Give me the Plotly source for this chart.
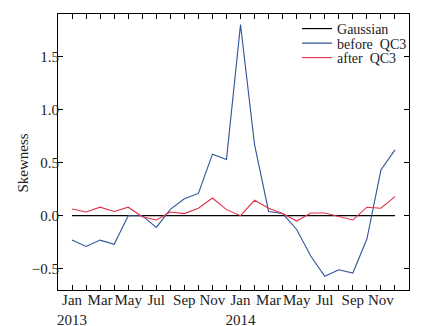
import plotly.graph_objects as go

months = ["Jan", "Feb", "Mar", "Apr", "May", "Jun", "Jul", "Aug", "Sep", "Oct", "Nov", "Dec"] * 2
years = [2013] * 12 + [2014] * 12
month_idx = list(range(24))

gaussian = [0.0] * 24
before_qc3 = [-0.23, -0.29, -0.23, -0.27, 0.00, 0.00, -0.11, 0.06, 0.16, 0.21, 0.58, 0.53,
              1.80, 0.67, 0.04, 0.02, -0.13, -0.38, -0.57, -0.51, -0.54, -0.22, 0.43, 0.62]
after_qc3 = [0.063, 0.035, 0.08, 0.04, 0.08, -0.01, -0.04, 0.035, 0.02, 0.07, 0.167, 0.057,
             0.0, 0.145, 0.07, 0.02, -0.05, 0.025, 0.025, -0.01, -0.04, 0.08, 0.07, 0.18]

tick_text = []
for i, (m, y) in enumerate(zip(months, years)):
    if i % 2 == 1:
        tick_text.append("")
    elif m == "Jan":
        tick_text.append(f"{m}<br>{y}")
    else:
        tick_text.append(m)

font = "Liberation Serif, Times New Roman, serif"
fc = "#222"

fig = go.Figure()
fig.add_trace(go.Scatter(x=month_idx, y=gaussian, mode="lines", name="Gaussian",
                         line=dict(color="black", width=1.2), legend="legend"))
fig.add_trace(go.Scatter(x=month_idx, y=before_qc3, mode="lines", name="before\u00a0 QC3",
                         line=dict(color="#2f5597", width=1.1), legend="legend2"))
fig.add_trace(go.Scatter(x=month_idx, y=after_qc3, mode="lines", name="after\u00a0 QC3",
                         line=dict(color="#e0304a", width=1.1), legend="legend3"))

leg_common = dict(x=0.681, xanchor="left", yanchor="middle", bgcolor="rgba(0,0,0,0)",
                  font=dict(family=font, size=14, color=fc))

# page body has an 8px margin; size the figure so that it fills the 436x326 window
fig.update_layout(
    width=428, height=318,
    margin=dict(l=50, r=27, t=6, b=36, autoexpand=False),
    paper_bgcolor="white", plot_bgcolor="white",
    font=dict(family=font, size=15, color=fc),
    showlegend=True,
    legend=dict(y=0.9457, **leg_common),
    legend2=dict(y=0.893, **leg_common),
    legend3=dict(y=0.8406, **leg_common),
    xaxis=dict(range=[-1, 24], tickmode="array", tickvals=month_idx, ticktext=tick_text,
               tickangle=0, automargin=False, ticklabelstandoff=-4,
               ticks="inside", ticklen=5, tickcolor="black", showline=True, linecolor="black",
               linewidth=1, mirror="ticks", showgrid=False, zeroline=False,
               tickfont=dict(family=font, size=15, color=fc)),
    yaxis=dict(range=[-0.7, 1.9], tickmode="array", tickvals=[-0.5, 0, 0.5, 1.0, 1.5],
               tickformat=".1f", ticks="inside", ticklen=5, tickcolor="black", showline=True,
               linecolor="black", linewidth=1, mirror="ticks", showgrid=False, zeroline=False,
               automargin=False, ticklabelstandoff=-5,
               tickfont=dict(family=font, size=15, color=fc)),
    annotations=[dict(text="Skewness", xref="paper", yref="paper", x=-0.0983, y=0.46,
                      xanchor="center", yanchor="middle", textangle=-90, showarrow=False,
                      font=dict(family=font, size=15, color=fc))],
)

fig.write_html("out.html")
